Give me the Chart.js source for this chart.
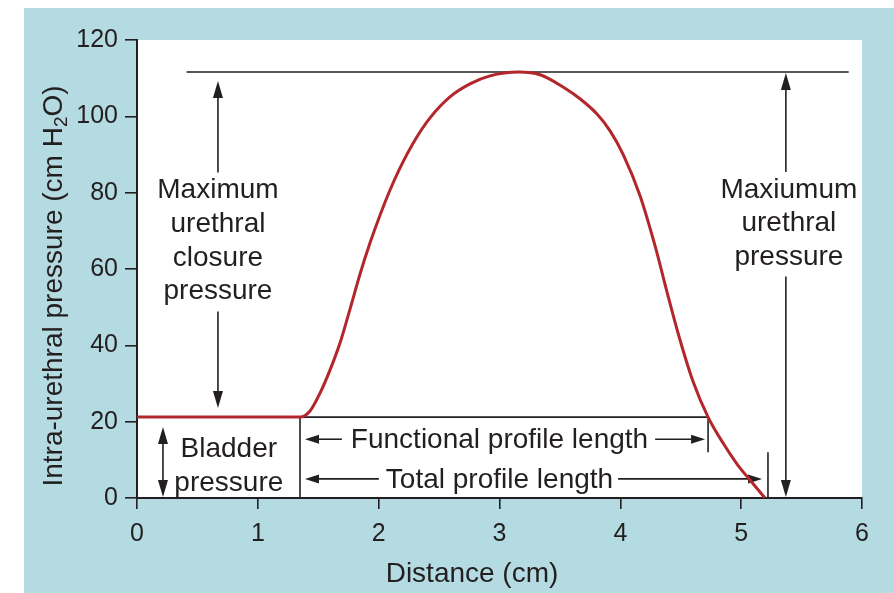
<!DOCTYPE html>
<html>
<head>
<meta charset="utf-8">
<script src="https://cdn.jsdelivr.net/npm/chart.js@4"></script>
<style>
  body { margin: 0; background: #fff; }
  #wrap { width: 894px; height: 593px; position: relative; }
</style>
</head>
<body>
<div id="wrap"><canvas id="profile"></canvas></div>
<script>
// urethral pressure profile
const distance = [0, 1.349, 1.432, 1.515, 1.597, 1.680, 1.763, 1.846, 1.928, 2.011, 2.094, 2.177, 2.301, 2.425, 2.590, 2.756, 2.921, 3.161,
  3.335, 3.526, 3.666, 3.807, 3.915, 4.022, 4.163, 4.287, 4.386, 4.494, 4.601, 4.726, 4.850, 4.966, 5.073, 5.197];
const pressure = [21.2, 21.2, 22.8, 27.5, 33.5, 40.6, 49.5, 58.7, 66.8, 74.1, 80.7, 86.5, 93.8, 99.6, 105.1, 108.5, 110.6, 111.6,
  110.9, 107.7, 104.6, 100.6, 96.2, 90.1, 79.2, 66.1, 54.0, 41.4, 30.6, 21.2, 14.4, 8.9, 4.7, 0];
const xTicks = [0, 1, 2, 3, 4, 5, 6];
const yTicks = [0, 20, 40, 60, 80, 100, 120];

const mucpLabel = ['Maximum', 'urethral', 'closure', 'pressure'];
const mupLabel = ['Maxiumum', 'urethral', 'pressure'];
const bladderLabel = ['Bladder', 'pressure'];
const functionalLabel = 'Functional profile length';
const totalLabel = 'Total profile length';

// landmarks taken from the curve
const bladderPressure = pressure[0];
const maxPressure = Math.max(...pressure);
const profileStart = distance[1];
const functionalEnd = distance[pressure.lastIndexOf(bladderPressure)];
const totalEnd = distance[distance.length - 1];

const ink = '#231f20';
const fam = '"Liberation Sans", Arial, Helvetica, sans-serif';

function seg(ctx, x1, y1, x2, y2) {
  ctx.beginPath();
  ctx.moveTo(x1, y1);
  ctx.lineTo(x2, y2);
  ctx.stroke();
}

function head(ctx, x, y, angle, len, half) {
  ctx.save();
  ctx.translate(x, y);
  ctx.rotate(angle);
  ctx.beginPath();
  ctx.moveTo(0, 0);
  ctx.lineTo(-len, -half);
  ctx.lineTo(-len, half);
  ctx.closePath();
  ctx.fill();
  ctx.restore();
}

// line from 1 to 2, with heads where asked
function arrow(ctx, x1, y1, x2, y2, atStart, atEnd, len, half) {
  len = len || 15; half = half || 4.5;
  const a = Math.atan2(y2 - y1, x2 - x1);
  const c = Math.cos(a) * len * 0.7, s = Math.sin(a) * len * 0.7;
  seg(ctx, atStart ? x1 + c : x1, atStart ? y1 + s : y1, atEnd ? x2 - c : x2, atEnd ? y2 - s : y2);
  if (atEnd) head(ctx, x2, y2, a, len, half);
  if (atStart) head(ctx, x1, y1, a + Math.PI, len, half);
}

function lines(ctx, list, cx, firstBase, step) {
  list.forEach((t, i) => ctx.fillText(t, cx, firstBase + i * step));
  return firstBase + (list.length - 1) * step;
}

const notes = {
  id: 'notes',
  beforeDraw(chart) {
    const { ctx, chartArea: a } = chart;
    ctx.save();
    ctx.fillStyle = '#fff';
    ctx.fillRect(0, 0, chart.width, chart.height);
    ctx.fillStyle = '#b4dbe1';
    ctx.fillRect(24, 8, chart.width - 24, chart.height - 8);
    ctx.fillStyle = '#fff';
    ctx.fillRect(a.left, a.top, a.right - a.left, a.bottom - a.top);
    ctx.restore();
  },
  beforeDatasetsDraw(chart) {
    const { ctx, scales: { x, y } } = chart;
    const px = v => x.getPixelForValue(v), py = v => y.getPixelForValue(v);
    const yMax = py(maxPressure), yBase = py(bladderPressure), y0 = py(0);
    ctx.save();
    ctx.strokeStyle = ink;
    ctx.fillStyle = ink;
    ctx.lineWidth = 1.6;
    ctx.font = '28px ' + fam;
    ctx.textAlign = 'center';
    ctx.textBaseline = 'alphabetic';

    // level of maximum pressure
    seg(ctx, px(0.41), yMax, px(5.89), yMax);

    // plateau of the functional length and the bounds
    const rowF = py(15.4), rowT = py(5), split = py(12);
    seg(ctx, px(profileStart), yBase, px(functionalEnd), yBase);
    seg(ctx, px(profileStart), yBase, px(profileStart), y0);
    seg(ctx, px(functionalEnd), yBase, px(functionalEnd), split);
    seg(ctx, px(totalEnd) + 3, split, px(totalEnd) + 3, y0);

    // functional profile length
    const cx = px(3.0);
    ctx.fillText(functionalLabel, cx, rowF + 9);
    let w = ctx.measureText(functionalLabel).width;
    arrow(ctx, cx - w / 2 - 9, rowF, px(profileStart) + 5, rowF, false, true, 14, 4.5);
    arrow(ctx, cx + w / 2 + 7, rowF, px(functionalEnd) - 3, rowF, false, true, 14, 4.5);

    // total profile length
    ctx.fillText(totalLabel, cx, rowT + 9);
    w = ctx.measureText(totalLabel).width;
    arrow(ctx, cx - w / 2 - 7, rowT, px(profileStart) + 5, rowT, false, true, 14, 4.5);
    arrow(ctx, cx + w / 2 + 5, rowT, px(totalEnd) - 3, rowT, false, true, 14, 4.5);

    // maximum urethral closure pressure
    const xc = px(0.67);
    const b1 = py(78.5);
    const last1 = lines(ctx, mucpLabel, xc, b1, 33.7);
    arrow(ctx, xc, b1 - 26, xc, yMax + 9, false, true, 17, 5);
    arrow(ctx, xc, last1 + 12, xc, yBase - 9, false, true, 17, 5);

    // maximum urethral pressure
    const xm = px(5.37);
    const b2 = py(78.6);
    const last2 = lines(ctx, mupLabel, xm + 3, b2, 33.3);
    arrow(ctx, xm, b2 - 26, xm, yMax + 1, false, true, 17, 5);
    arrow(ctx, xm, last2 + 12, xm, y0 - 1, false, true, 17, 5);

    // bladder pressure
    const xb = px(0.215);
    arrow(ctx, xb, yBase + 10, xb, y0 - 1, true, true, 17, 5);
    lines(ctx, bladderLabel, px(0.76), py(10.7), 34);
    ctx.restore();
  },
  afterDraw(chart) {
    const { ctx } = chart;
    ctx.save();
    ctx.fillStyle = ink;
    ctx.textBaseline = 'alphabetic';
    // x title
    ctx.font = '28px ' + fam;
    ctx.textAlign = 'center';
    ctx.fillText('Distance (cm)', 472, 582);
    // y title with subscript
    const big = '28px ' + fam, small = '19px ' + fam;
    const parts = [['Intra-urethral pressure (cm H', big, 0], ['2', small, 5], ['O)', big, 0]];
    let total = 0;
    parts.forEach(p => { ctx.font = p[1]; total += ctx.measureText(p[0]).width; });
    ctx.translate(62, 286);
    ctx.rotate(-Math.PI / 2);
    ctx.textAlign = 'left';
    let at = -total / 2;
    parts.forEach(p => {
      ctx.font = p[1];
      ctx.fillText(p[0], at, p[2]);
      at += ctx.measureText(p[0]).width;
    });
    ctx.restore();
  }
};

const tickFont = { family: fam, size: 25 };

new Chart(document.getElementById('profile'), {
  type: 'scatter',
  data: {
    datasets: [{
      data: distance.map((d, i) => ({ x: d, y: pressure[i] })),
      showLine: true,
      borderColor: '#b3262c',
      borderWidth: 3,
      pointRadius: 0,
      cubicInterpolationMode: 'monotone',
      fill: false
    }]
  },
  options: {
    responsive: true,
    maintainAspectRatio: false,
    animation: false,
    events: [],
    layout: { padding: { left: 0, top: 40, right: 32, bottom: 0 } },
    plugins: { legend: { display: false }, tooltip: { enabled: false } },
    scales: {
      x: {
        type: 'linear',
        min: 0,
        max: 6,
        afterBuildTicks: s => { s.ticks = xTicks.map(v => ({ value: v })); },
        afterFit: s => { s.height = 95; },
        grid: { drawOnChartArea: false, drawTicks: true, tickLength: 11, color: ink, lineWidth: 1.6 },
        border: { display: true, color: ink, width: 2 },
        ticks: { font: tickFont, color: ink, padding: 10, maxRotation: 0 }
      },
      y: {
        min: 0,
        max: 120,
        afterBuildTicks: s => { s.ticks = yTicks.map(v => ({ value: v })); },
        afterFit: s => { s.width = 137; },
        grid: { drawOnChartArea: false, drawTicks: true, tickLength: 12, color: ink, lineWidth: 1.6 },
        border: { display: true, color: ink, width: 2 },
        ticks: { font: tickFont, color: ink, padding: 7 }
      }
    }
  },
  plugins: [notes]
});
</script>
</body>
</html>
